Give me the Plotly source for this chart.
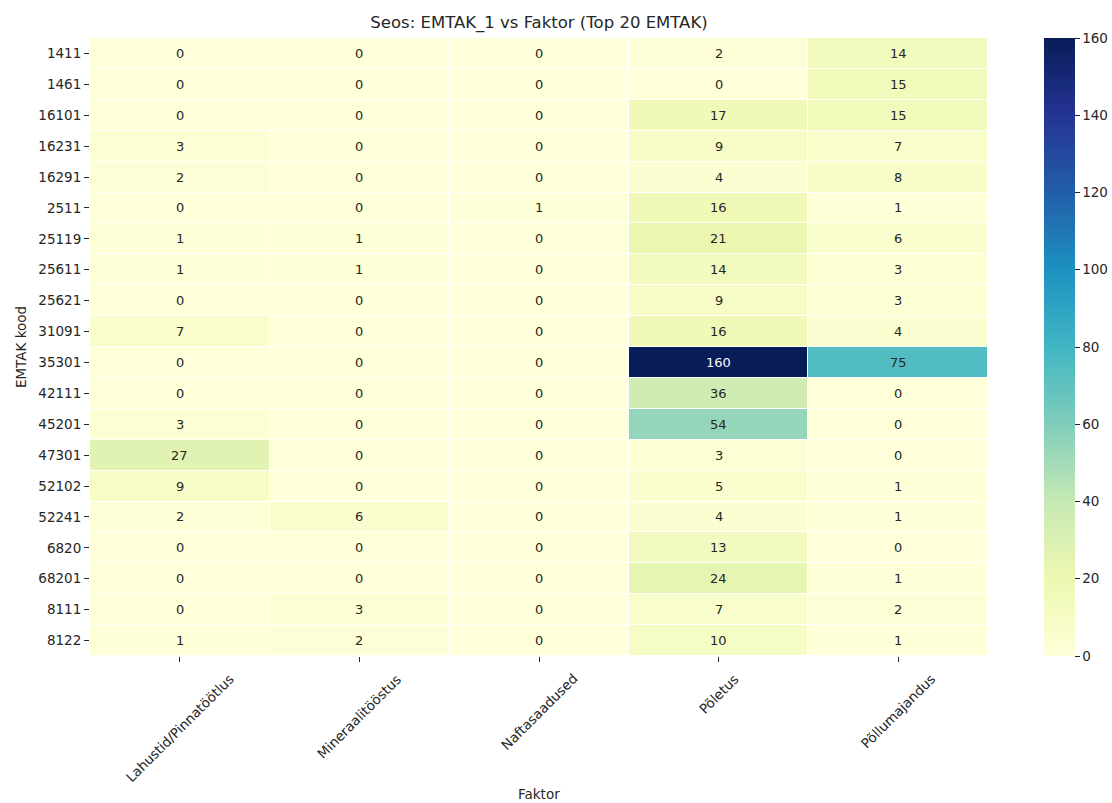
import plotly.graph_objects as go

# EMTAK codes (rows) and pollution factors (columns)
emtak = ["1411", "1461", "16101", "16231", "16291", "2511", "25119", "25611",
         "25621", "31091", "35301", "42111", "45201", "47301", "52102", "52241",
         "6820", "68201", "8111", "8122"]
faktor = ["Lahustid/Pinnatöötlus", "Mineraalitööstus", "Naftasaadused",
          "Põletus", "Põllumajandus"]

lahustid = [0, 0, 0, 3, 2, 0, 1, 1, 0, 7, 0, 0, 3, 27, 9, 2, 0, 0, 0, 1]
mineraal = [0, 0, 0, 0, 0, 0, 1, 1, 0, 0, 0, 0, 0, 0, 0, 6, 0, 0, 3, 2]
nafta = [0, 0, 0, 0, 0, 1, 0, 0, 0, 0, 0, 0, 0, 0, 0, 0, 0, 0, 0, 0]
poletus = [2, 0, 17, 9, 4, 16, 21, 14, 9, 16, 160, 36, 54, 3, 5, 4, 13, 24, 7, 10]
pollumaj = [14, 15, 15, 7, 8, 1, 6, 3, 3, 4, 75, 0, 0, 0, 1, 1, 0, 1, 2, 1]

columns = [lahustid, mineraal, nafta, poletus, pollumaj]
z = [[col[i] for col in columns] for i in range(len(emtak))]

# positional indices so the numeric-looking codes stay plain labels
xi = list(range(len(faktor)))
yi = list(range(len(emtak)))

ylgnbu = [
    [0.000, "#ffffd9"], [0.125, "#edf8b1"], [0.250, "#c7e9b4"],
    [0.375, "#7fcdbb"], [0.500, "#41b6c4"], [0.625, "#1d91c0"],
    [0.750, "#225ea8"], [0.875, "#253494"], [1.000, "#081d58"],
]
zmax = 160
FONT = "DejaVu Sans"
TXT = "#262626"
TICK_SIZE = 13.5

fig = go.Figure(go.Heatmap(
    z=z, x=xi, y=yi,
    colorscale=ylgnbu, zmin=0, zmax=zmax,
    xgap=1, ygap=1,
    colorbar=dict(
        x=1.0624, xanchor="left", xpad=0,
        y=1, yanchor="top", ypad=0, len=1, lenmode="fraction",
        thickness=31, outlinewidth=0,
        tickvals=[0, 20, 40, 60, 80, 100, 120, 140, 160],
        ticks="outside", ticklen=5, tickcolor=TXT,
        tickfont=dict(family=FONT, size=TICK_SIZE, color=TXT),
    ),
))

# cell value labels: white on dark cells, dark grey otherwise
for i in yi:
    for j in xi:
        v = z[i][j]
        fig.add_annotation(
            x=j, y=i, text=str(v), showarrow=False,
            font=dict(family=FONT, size=13,
                      color="white" if v / zmax > 0.6 else TXT),
        )

# rotated x tick labels centred on their ticks
for j, f in zip(xi, faktor):
    fig.add_annotation(
        x=j, xref="x", y=-0.0194, yref="paper",
        text=f, textangle=-45, showarrow=False,
        xanchor="center", yanchor="top",
        font=dict(family=FONT, size=TICK_SIZE, color=TXT),
    )

fig.add_annotation(
    x=0.5, xref="paper", y=-0.223, yref="paper",
    text="Faktor", showarrow=False, xanchor="center", yanchor="middle",
    font=dict(family=FONT, size=TICK_SIZE, color=TXT),
)

fig.update_layout(
    width=1112, height=803,
    margin=dict(l=90, r=124, t=38, b=147, autoexpand=False),
    paper_bgcolor="white", plot_bgcolor="white",
    title=dict(text="Seos: EMTAK_1 vs Faktor (Top 20 EMTAK)",
               x=(90 + 898 / 2) / 1112, xanchor="center",
               y=1 - 22 / 803, yanchor="middle",
               font=dict(family=FONT, size=16.5, color=TXT)),
    xaxis=dict(range=[-0.5, len(faktor) - 0.5], tickvals=xi,
               showticklabels=False, ticks="outside",
               ticklen=5, tickcolor=TXT, showgrid=False, zeroline=False),
    yaxis=dict(range=[len(emtak) - 0.5, -0.5], tickvals=yi, ticktext=emtak,
               ticks="outside", ticklen=5, tickcolor=TXT,
               showgrid=False, zeroline=False,
               tickfont=dict(family=FONT, size=TICK_SIZE, color=TXT),
               title=dict(text="EMTAK kood", standoff=8,
                          font=dict(family=FONT, size=TICK_SIZE, color=TXT))),
)

fig.write_html("out.html")
